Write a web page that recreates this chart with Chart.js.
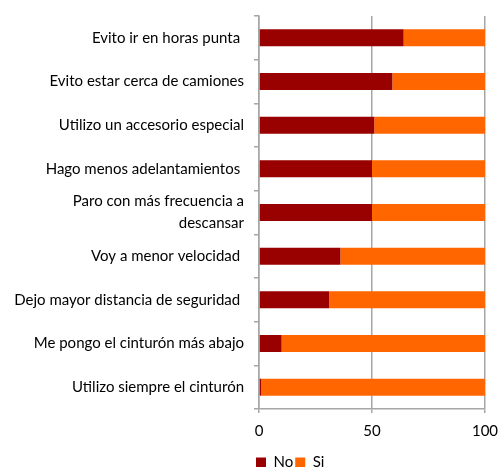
<!DOCTYPE html>
<html>
<head>
<meta charset="utf-8">
<script src="https://cdn.jsdelivr.net/npm/chart.js@4"></script>
<style>
  html, body { margin: 0; padding: 0; background: #fff; }
  #wrap { width: 498px; height: 467px; }
</style>
</head>
<body>
<div id="wrap"><canvas id="myChart" width="498" height="467"></canvas></div>
<script>
// categories, top to bottom
const labels = [
  'Evito ir en horas punta ',
  'Evito estar cerca de camiones',
  'Utilizo un accesorio especial',
  'Hago menos adelantamientos ',
  ['Paro con más frecuencia a', 'descansar'],
  'Voy a menor velocidad ',
  'Dejo mayor distancia de seguridad ',
  'Me pongo el cinturón más abajo',
  'Utilizo siempre el cinturón'
];
const noValues = [64, 59, 51, 50, 50, 36, 31, 10, 1];
const siValues = [36, 41, 49, 50, 50, 64, 69, 90, 99];
const xTicks = [0, 50, 100];

const gridGray = '#a6a6a6';

// move legend under the plot like the original
const legendShift = {
  id: 'legendShift',
  afterLayout(chart) {
    const lg = chart.legend;
    const w = lg.right - lg.left;
    const h = lg.bottom - lg.top;
    lg.left = 254;
    lg.right = lg.left + w;
    lg.top = 453;
    lg.bottom = lg.top + h;
  }
};

const chartData = {
  labels,
  datasets: [
    {
      label: 'No',
      data: noValues,
      backgroundColor: '#990000',
      borderWidth: 0,
      barPercentage: 0.39,
      categoryPercentage: 1
    },
    {
      label: 'Si',
      data: siValues,
      backgroundColor: '#ff6600',
      borderWidth: 0,
      barPercentage: 0.39,
      categoryPercentage: 1
    }
  ]
};

const config = {
  type: 'bar',
  data: chartData,
  options: {
    indexAxis: 'y',
    responsive: false,
    animation: false,
    layout: { padding: { top: 16, right: 0, left: 0, bottom: 0 } },
    plugins: {
      tooltip: { enabled: false },
      legend: {
        position: 'bottom',
        align: 'start',
        labels: {
          boxWidth: 10,
          boxHeight: 10,
          padding: 2,
          color: '#000',
          font: { family: 'Lato', size: 15 }
        }
      }
    },
    scales: {
      x: {
        stacked: true,
        min: 0,
        max: 100,
        afterBuildTicks: scale => { scale.ticks = xTicks.map(v => ({ value: v })); },
        afterFit: scale => {
          scale.height = 31;
          scale.paddingLeft = 0;
          scale.paddingRight = 13;
        },
        border: { color: gridGray, width: 1.5 },
        grid: { color: gridGray, lineWidth: 1.5, tickLength: 4 },
        ticks: { color: '#000', padding: 9, maxRotation: 0, font: { family: 'Lato', size: 15 } }
      },
      y: {
        stacked: true,
        afterFit: scale => {
          scale.width = 259;
          scale.paddingTop = 0;
          scale.paddingBottom = 0;
        },
        border: { color: gridGray, width: 1.5 },
        grid: { color: gridGray, lineWidth: 1.5, tickLength: 5, drawOnChartArea: false, offset: true },
        ticks: {
          autoSkip: false,
          color: '#000',
          padding: 10,
          font: { family: 'Lato', size: 15, lineHeight: 1.45 }
        }
      }
    }
  },
  plugins: [legendShift]
};

const myChart = new Chart(document.getElementById('myChart'), config);
</script>
</body>
</html>
